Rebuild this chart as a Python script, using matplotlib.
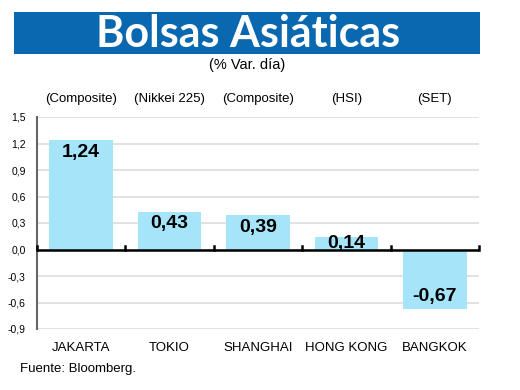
import matplotlib.pyplot as plt
import numpy as np
from matplotlib.patches import Rectangle

# data
cities = ["JAKARTA", "TOKIO", "SHANGHAI", "HONG KONG", "BANGKOK"]
indices = ["(Composite)", "(Nikkei 225)", "(Composite)", "(HSI)", "(SET)"]
values = [1.24, 0.43, 0.39, 0.14, -0.67]
yticks = [1.5, 1.2, 0.9, 0.6, 0.3, 0.0, -0.3, -0.6, -0.9]

bar_color = "#a6e4fa"
narrow = ["Liberation Sans", "DejaVu Sans"]

fig = plt.figure(figsize=(5.2, 3.9), dpi=100)
fig.patch.set_facecolor("white")

# title banner
fig.patches.append(Rectangle((14 / 520, 1 - 54 / 390), 466 / 520, 42 / 390,
                             transform=fig.transFigure, facecolor="#0a68b0",
                             edgecolor="none"))
fig.text(248 / 520, 1 - 34 / 390, "Bolsas Asiáticas", color="white",
         fontsize=31, fontweight="bold", ha="center", va="center",
         family=["Lato", "DejaVu Sans"])
fig.text(247 / 520, 1 - 65 / 390, "(% Var. día)", fontsize=10.5,
         ha="center", va="center", family=narrow)

ax = fig.add_axes([37 / 520, 1 - 329 / 390, 442 / 520, 212 / 390])
x = np.arange(len(cities))
ax.bar(x, values, width=0.72, color=bar_color, zorder=2)

ax.set_xlim(-0.5, 4.5)
ax.set_ylim(-0.9, 1.5)
ax.set_yticks(yticks)
ax.set_yticklabels([f"{v:.1f}".replace(".", ",") for v in yticks],
                   fontsize=7.5, family=narrow)
ax.tick_params(axis="y", length=0, pad=8)
ax.set_xticks([])
for sp in ["top", "right", "bottom"]:
    ax.spines[sp].set_visible(False)
ax.spines["left"].set_color("#666666")
ax.spines["left"].set_linewidth(1.5)
ax.grid(axis="y", color="#dddddd", linewidth=1.2, zorder=0)

# zero line with separators
ax.axhline(0, color="black", linewidth=1.8, zorder=3)
for b in np.arange(-0.5, 5.0, 1.0):
    ax.plot([b, b], [0, 0.035], color="black", linewidth=1.8, zorder=3,
            clip_on=False)

for i, v in enumerate(values):
    lbl = f"{v:.2f}".replace(".", ",")
    if v > 0.3:
        ypos = v - 0.14
    elif v > 0:
        ypos = v / 2
    else:
        ypos = v + 0.14
    ax.text(i, ypos, lbl, ha="center", va="center", fontsize=14,
            fontweight="bold", family=narrow, zorder=4)
    ax.text(i, 1.70, indices[i], ha="center", va="center", fontsize=9.5,
            family=narrow, clip_on=False)
    ax.text(i, -1.11, cities[i], ha="center", va="center", fontsize=9.5,
            family=narrow, clip_on=False)

fig.text(20 / 520, 1 - 369 / 390, "Fuente: Bloomberg.", fontsize=9.5,
         ha="left", va="center", family=narrow)

fig.savefig("out.png", dpi=100)
